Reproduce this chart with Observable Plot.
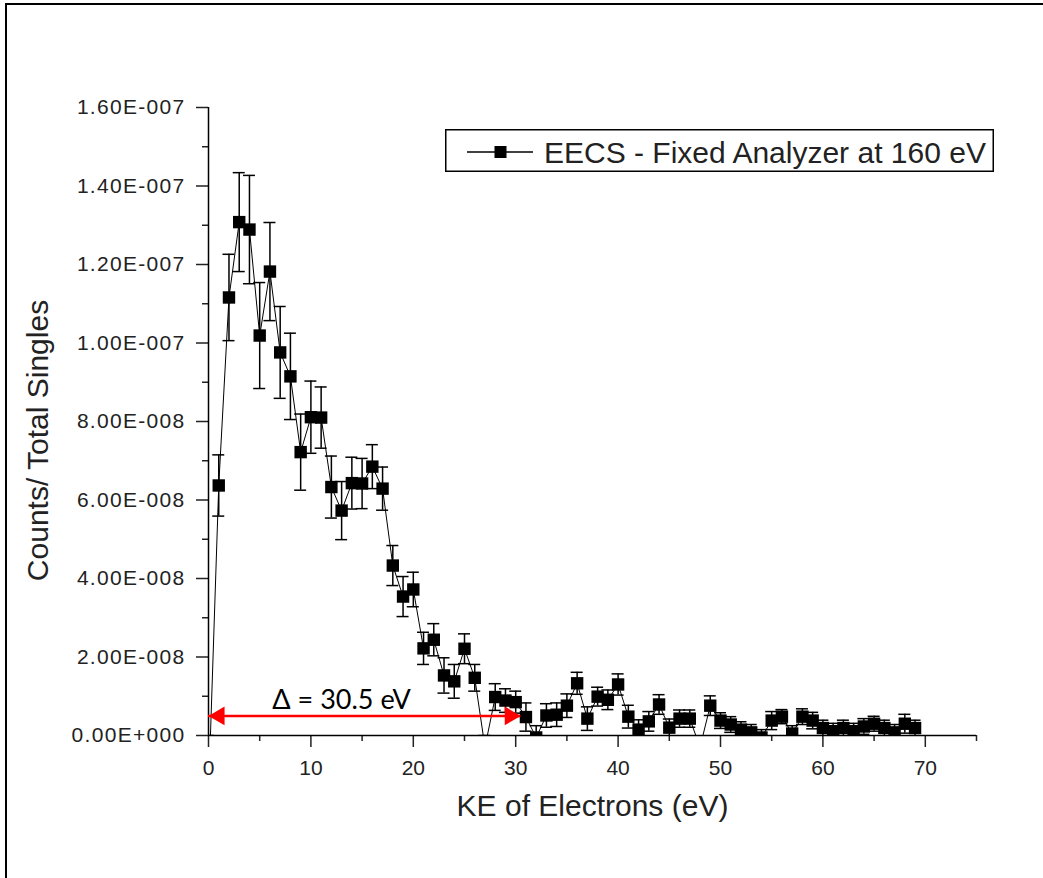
<!DOCTYPE html>
<html>
<head>
<meta charset="utf-8">
<script src="https://cdn.jsdelivr.net/npm/d3@7"></script>
<script src="https://cdn.jsdelivr.net/npm/@observablehq/plot@0.6"></script>
<style>
  html, body { margin: 0; padding: 0; background: #fff; }
  #page { position: relative; width: 1043px; height: 878px; overflow: hidden; background: #fff; }
  #frame { position: absolute; left: 5px; top: 3px; width: 2000px; height: 2000px;
           border-left: 2px solid #000; border-top: 2px solid #000; }
  #chart { position: absolute; left: 0; top: 0; }
  #legend { position: absolute; left: 445px; top: 129px; }
  g[aria-label="y-axis tick label"] text { letter-spacing: 1.3px; }
</style>
</head>
<body>
<div id="page">
  <div id="frame"></div>
  <div id="chart"></div>
  <svg id="legend" width="549" height="43" font-family="'Liberation Sans', Arial, sans-serif">
    <rect x="0.75" y="0.75" width="547.5" height="41.5" fill="#fff" stroke="#000" stroke-width="1.5"></rect>
    <line x1="22" x2="88" y1="23" y2="23" stroke="#000" stroke-width="1.5"></line>
    <rect x="49.5" y="17" width="12" height="12" fill="#000"></rect>
    <text id="legend-label" x="99" y="23" dominant-baseline="central" font-size="30" fill="#222"></text>
  </svg>
</div>
<script>
// Kinetic energy of the detected electrons (eV)
const ke = [
  0, 1, 2, 3, 4, 5, 6, 7, 8, 9,
  10, 11, 12, 13, 14, 15, 16, 17, 18, 19,
  20, 21, 22, 23, 24, 25, 26, 27, 28, 29,
  30, 31, 32, 33, 34, 35, 36, 37, 38, 39,
  40, 41, 42, 43, 44, 45, 46, 47, 48, 49,
  50, 51, 52, 53, 54, 55, 56, 57, 58, 59,
  60, 61, 62, 63, 64, 65, 66, 67, 68, 69
];

// Counts / total singles, in units of 1E-8
const countsE8 = [
  -1.5, 6.37, 11.16, 13.08, 12.89, 10.19, 11.82, 9.76, 9.15, 7.22,
  8.11, 8.10, 6.33, 5.73, 6.43, 6.42, 6.85, 6.29, 4.33, 3.54,
  3.72, 2.22, 2.44, 1.53, 1.38, 2.21, 1.47, -0.30, 0.98, 0.89,
  0.85, 0.47, -0.05, 0.51, 0.53, 0.76, 1.33, 0.43, 0.99, 0.91,
  1.30, 0.48, 0.15, 0.36, 0.79, 0.20, 0.43, 0.43, -0.30, 0.76,
  0.38, 0.28, 0.15, 0.08, -0.05, 0.38, 0.48, 0.05, 0.48, 0.38,
  0.19, 0.11, 0.19, 0.11, 0.23, 0.30, 0.19, 0.08, 0.30, 0.19
];

// Statistical uncertainty of each point, in units of 1E-8
const errorE8 = [
  1.50, 0.78, 1.10, 1.26, 1.38, 1.35, 1.25, 1.17, 1.10, 0.97,
  0.92, 0.78, 0.79, 0.74, 0.66, 0.64, 0.56, 0.55, 0.51, 0.51,
  0.44, 0.41, 0.41, 0.45, 0.43, 0.38, 0.34, 0.30, 0.34, 0.30,
  0.28, 0.36, 0.30, 0.30, 0.30, 0.30, 0.28, 0.30, 0.24, 0.25,
  0.27, 0.29, 0.25, 0.25, 0.25, 0.22, 0.22, 0.22, 0.20, 0.25,
  0.20, 0.20, 0.20, 0.20, 0.20, 0.23, 0.18, 0.20, 0.20, 0.21,
  0.20, 0.20, 0.20, 0.20, 0.20, 0.19, 0.20, 0.20, 0.24, 0.20
];

// Axis ticks
const xMajorTicks = [0, 10, 20, 30, 40, 50, 60, 70];
const xMinorTicks = [5, 15, 25, 35, 45, 55, 65, 75];
const yMajorTicks = [0, 2e-8, 4e-8, 6e-8, 8e-8, 1e-7, 1.2e-7, 1.4e-7, 1.6e-7];
const yMinorTicks = [1e-8, 3e-8, 5e-8, 7e-8, 9e-8, 1.1e-7, 1.3e-7, 1.5e-7];

// Texts
const seriesName = "EECS - Fixed Analyzer at 160 eV";
const xTitle = "KE of Electrons (eV)";
const yTitle = "Counts/ Total Singles";

// Width of the spectrum annotation
const deltaStart = 0;
const deltaEnd = 30.5;
const deltaLevel = 0.5e-8;

const rows = ke.map((k, i) => {
  const v = countsE8[i] * 1e-8;
  const e = errorE8[i] * 1e-8;
  return { ke: k, value: v, lo: v - e, hi: v + e };
});

// Origin-style scientific labels, e.g. 1.60E-007
function sci(d) {
  const [m, ex] = d.toExponential(2).split("e");
  const n = Math.abs(+ex);
  const sign = +ex < 0 ? "-" : "+";
  return `${m}E${sign}${String(n).padStart(3, "0")}`;
}

document.getElementById("legend-label").textContent = seriesName;

const font = "'Liberation Sans', Arial, sans-serif";

const chart = Plot.plot({
  width: 1043,
  height: 878,
  marginLeft: 208,
  marginRight: 67,
  marginTop: 107,
  marginBottom: 143,
  style: { fontFamily: font, fontSize: "21px", color: "#222", background: "transparent", overflow: "visible" },
  x: { domain: [0, 75] },
  y: { domain: [0, 1.6e-7] },
  marks: [
    // error bars
    Plot.ruleX(rows, { x: "ke", y1: "lo", y2: "hi", stroke: "#000", strokeWidth: 1.5, clip: true }),
    Plot.ruleY(rows, { y: "lo", x1: "ke", x2: "ke", insetLeft: -6, insetRight: -6, stroke: "#000", strokeWidth: 1.5, clip: true }),
    Plot.ruleY(rows, { y: "hi", x1: "ke", x2: "ke", insetLeft: -6, insetRight: -6, stroke: "#000", strokeWidth: 1.5, clip: true }),
    // connecting line and symbols
    Plot.line(rows, { x: "ke", y: "value", stroke: "#000", strokeWidth: 1, clip: true }),
    Plot.dot(rows, { x: "ke", y: "value", symbol: "square", r: 7, fill: "#000", clip: true }),
    // axes
    Plot.axisX({ ticks: xMajorTicks, tickSize: 12, tickPadding: 13, strokeWidth: 1.5, label: null, tickFormat: d => String(d) }),
    Plot.axisX({ ticks: xMinorTicks, tickSize: 6, strokeWidth: 1.5, label: null, tickFormat: () => "" }),
    Plot.axisY({ ticks: yMajorTicks, tickSize: 12, tickPadding: 11, strokeWidth: 1.5, label: null, tickFormat: sci }),
    Plot.axisY({ ticks: yMinorTicks, tickSize: 6, strokeWidth: 1.5, label: null, tickFormat: () => "" }),
    Plot.ruleX([0], { y1: 0, y2: 1.6e-7, stroke: "#000", strokeWidth: 1.5 }),
    Plot.ruleY([0], { x1: 0, x2: 75, stroke: "#000", strokeWidth: 1.5 }),
    // axis titles
    Plot.text([xTitle], { frameAnchor: "bottom", dy: 80, fontSize: 30, fill: "#222", fontFamily: font }),
    Plot.text([yTitle], { frameAnchor: "left", textAnchor: "middle", lineAnchor: "middle", dx: -170, dy: 19, rotate: -90, fontSize: 30, fill: "#222", fontFamily: font }),
    // Δ annotation
    Plot.ruleY([deltaLevel], { x1: deltaStart, x2: deltaEnd, stroke: "#ff0000", strokeWidth: 2.5 }),
    Plot.dot([deltaStart], { x: d => d, y: deltaLevel, symbol: "triangle", r: 6.9, rotate: -90, dx: 10.7, fill: "#ff0000" }),
    Plot.dot([deltaEnd], { x: d => d, y: deltaLevel, symbol: "triangle", r: 6.9, rotate: 90, dx: -10.7, fill: "#ff0000" }),
    Plot.text([`Δ = ${deltaEnd - deltaStart} eV`], { x: 13, y: deltaLevel, lineAnchor: "bottom", dy: -7, fontSize: 27, fontFamily: "Lato, sans-serif", fill: "#000" })
  ]
});

document.getElementById("chart").appendChild(chart);
</script>
</body>
</html>
